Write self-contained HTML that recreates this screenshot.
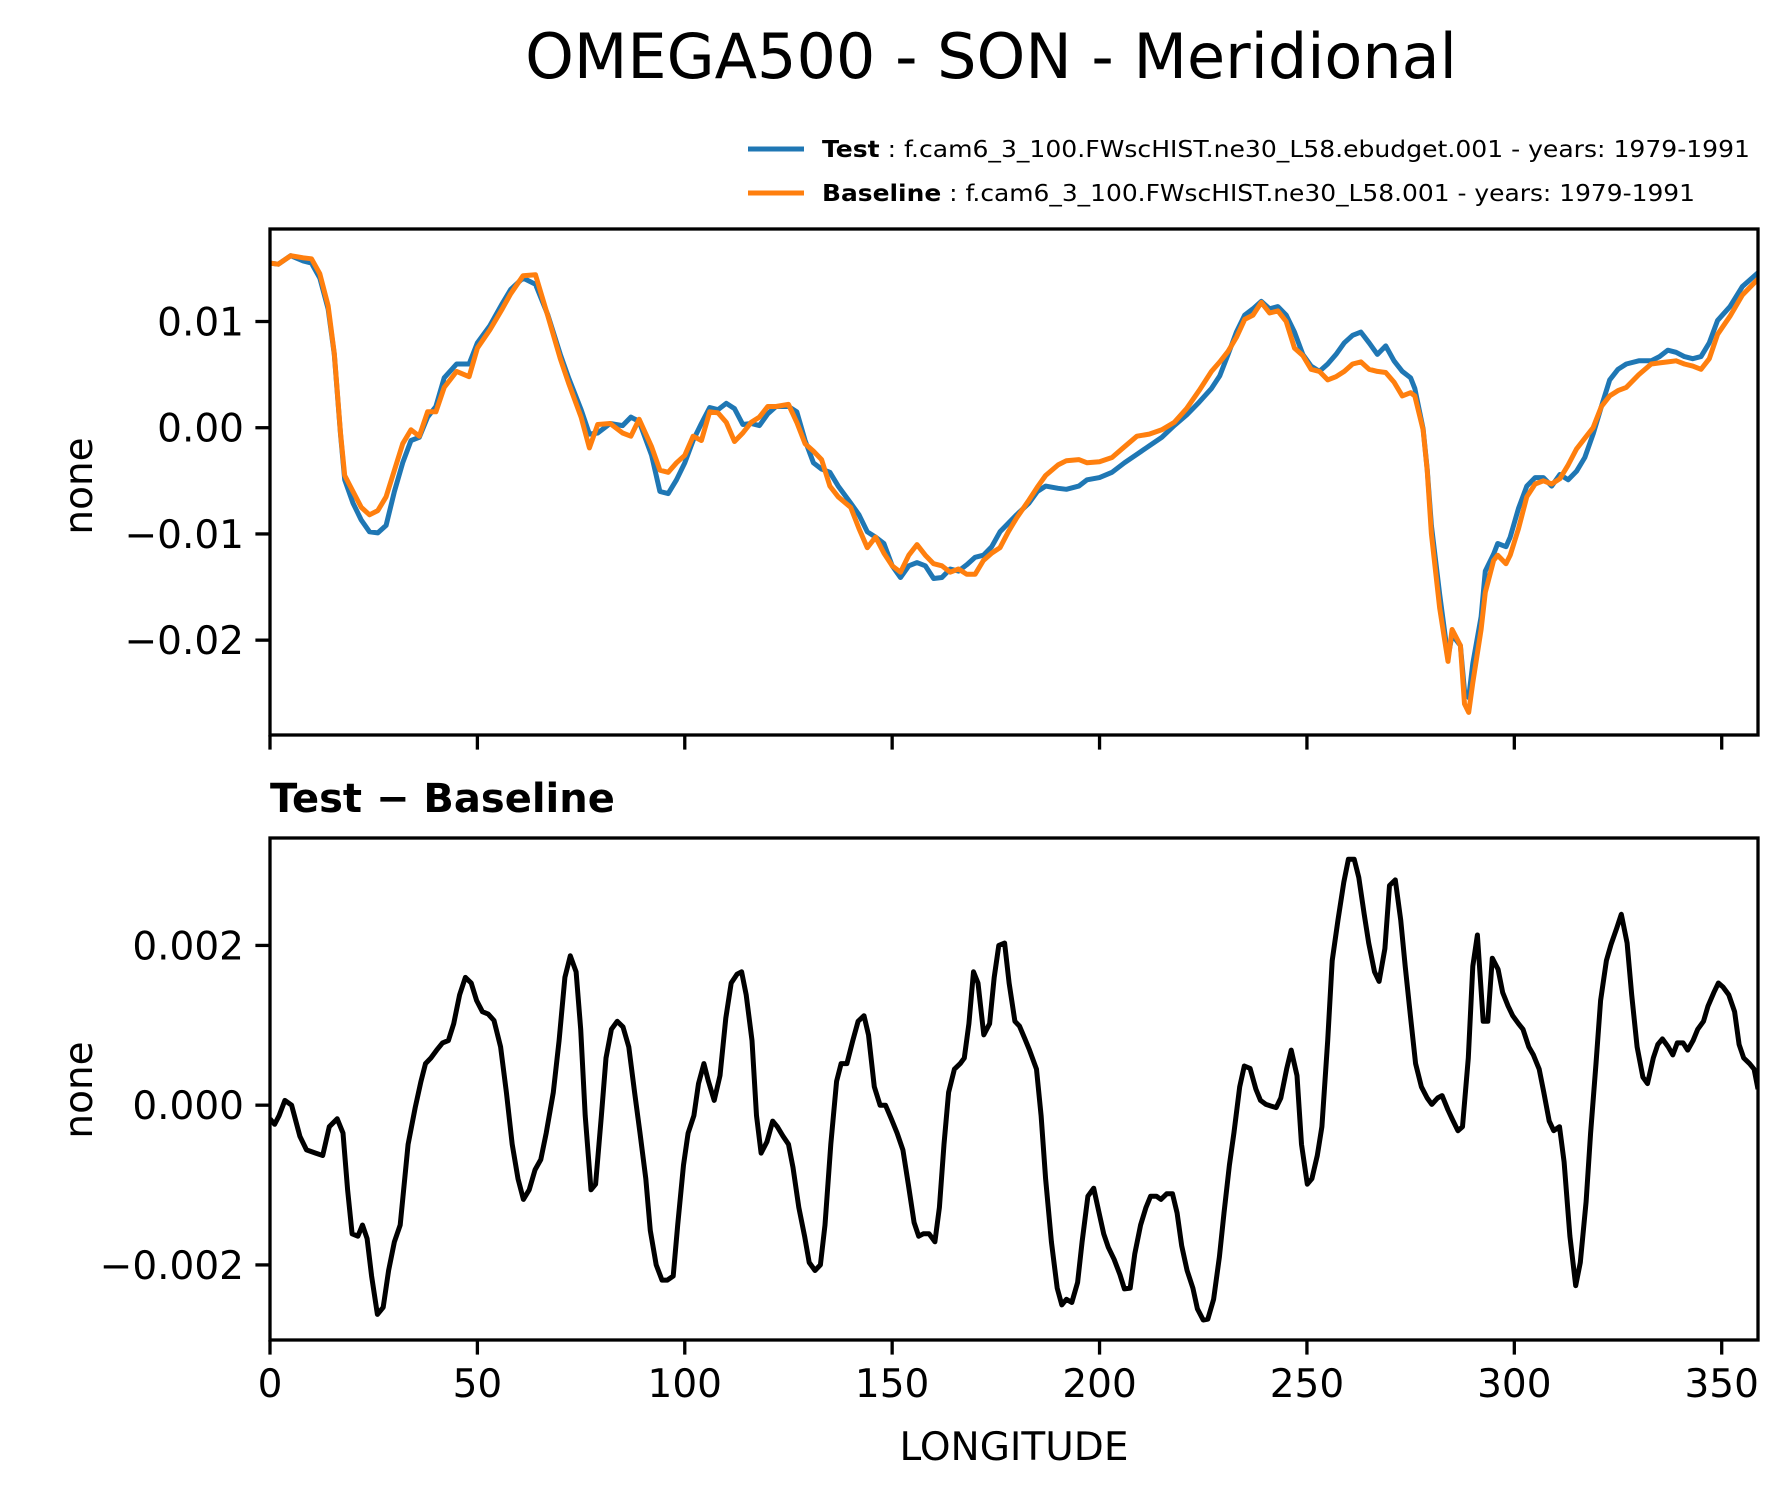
<!DOCTYPE html>
<html><head><meta charset="utf-8"><style>
html,body{margin:0;padding:0;background:#fff}
svg{display:block;font-family:"DejaVu Sans","Liberation Sans",sans-serif}
</style></head><body>
<svg id="fig" width="1791" height="1496" viewBox="0 0 1791 1496" xmlns="http://www.w3.org/2000/svg">
<rect width="1791" height="1496" fill="#fff"/>
<text x="991" y="78" font-size="62" text-anchor="middle">OMEGA500 - SON - Meridional</text>
<g>
<line x1="748" y1="149" x2="804" y2="149" stroke="#1f77b4" stroke-width="5"/>
<text x="822" y="157" font-size="23" textLength="928" lengthAdjust="spacingAndGlyphs"><tspan font-weight="bold">Test</tspan> : f.cam6_3_100.FWscHIST.ne30_L58.ebudget.001 - years: 1979-1991</text>
<line x1="748" y1="193" x2="804" y2="193" stroke="#ff7f0e" stroke-width="5"/>
<text x="822" y="201" font-size="23" textLength="873" lengthAdjust="spacingAndGlyphs"><tspan font-weight="bold">Baseline</tspan> : f.cam6_3_100.FWscHIST.ne30_L58.001 - years: 1979-1991</text>
</g>
<g id="topPanel"></g>
<g id="botPanel"></g>
<text x="270" y="812" font-size="40" font-weight="bold">Test − Baseline</text>
<text x="1014" y="1460" font-size="39" text-anchor="middle">LONGITUDE</text>
<text transform="translate(92,486) rotate(-90)" font-size="39" text-anchor="middle">none</text>
<text transform="translate(92,1090) rotate(-90)" font-size="39" text-anchor="middle">none</text>
</svg>
<script>
// data (values in units of 1e-3)
const lonTop = [0,2,5,8,10,12,14,15.5,17,18,20,22,24,26,28,30,32,34,36,38,40,42,45,48,50,53,56,58,61,64,67,70,72,75,77,79,82,85,87,89,92,94,96,98,100,102,104,106,108,110,112,114,116,118,120,122,125,127,129,131,133,135,137,140,142,144,146,148,150,152,154,156,158,160,162,164,166,168,170,172,174,176,178,180,183,185,187,190,192,195,197,200,203,206,209,212,215,218,221,224,227,229,231,233,235,237,239,241,243,245,247,249,251,253,255,257,259,261,263,265,267,269,271,273,275,276,278,279,280,282,284,285,287,288,289,290,292,293,295,296,298,299,301,303,305,307,309,311,313,315,317,319,321,323,325,327,330,333,335,337,339,341,343,345,347,349,352,355,358.75];
const testVals = [15.5,15.4,16.2,15.7,15.5,14.1,11.2,6.9,-0.6,-4.9,-7.1,-8.7,-9.8,-9.9,-9.2,-6.0,-3.3,-1.2,-0.9,1.0,2.0,4.7,6.0,6.0,8.0,9.6,11.7,13.0,14.1,13.5,10.6,6.9,4.7,1.7,-0.6,-0.5,0.4,0.2,1.0,0.6,-2.6,-6.0,-6.2,-4.9,-3.3,-1.2,0.4,1.9,1.7,2.3,1.8,0.3,0.4,0.2,1.3,2.0,2.0,1.5,-1.2,-3.3,-3.9,-4.2,-5.5,-7.1,-8.2,-9.8,-10.3,-10.9,-13.0,-14.1,-13.0,-12.7,-13.0,-14.2,-14.1,-13.3,-13.5,-12.9,-12.2,-12.0,-11.2,-9.8,-9.0,-8.2,-7.1,-6.0,-5.5,-5.7,-5.8,-5.5,-4.9,-4.7,-4.2,-3.3,-2.5,-1.7,-0.9,0.2,1.2,2.4,3.7,4.9,6.9,9.0,10.6,11.2,11.9,11.2,11.4,10.6,9.0,6.9,5.8,5.3,6.0,6.9,8.0,8.7,9.0,8.0,6.9,7.7,6.3,5.3,4.7,3.7,-0.1,-3.9,-9.2,-15.7,-21.6,-19.5,-20.5,-24.8,-25.4,-22.2,-17.8,-13.5,-11.9,-10.9,-11.2,-10.3,-7.6,-5.5,-4.7,-4.7,-5.5,-4.4,-4.9,-4.1,-2.8,-0.6,2.0,4.5,5.5,6.0,6.3,6.3,6.7,7.3,7.1,6.7,6.5,6.7,8.0,10.1,11.4,13.3,14.6];
const baseVals = [15.5,15.4,16.2,16.0,15.9,14.5,11.5,7.0,-0.5,-4.5,-6.0,-7.5,-8.2,-7.8,-6.5,-4.0,-1.5,-0.2,-0.8,1.5,1.5,3.8,5.3,4.8,7.5,9.2,11.2,12.6,14.3,14.4,10.5,6.5,4.2,1.0,-1.9,0.3,0.4,-0.5,-0.8,0.8,-1.8,-4.0,-4.2,-3.3,-2.6,-0.8,-1.2,1.5,1.4,0.5,-1.3,-0.5,0.5,1.0,2.0,2.0,2.2,0.5,-1.5,-2.2,-3.0,-5.5,-6.5,-7.5,-9.5,-11.3,-10.3,-11.8,-13.0,-13.6,-12.0,-11.0,-12.0,-12.8,-13.0,-13.6,-13.3,-13.8,-13.8,-12.5,-11.8,-11.3,-9.8,-8.5,-6.8,-5.6,-4.5,-3.5,-3.1,-3.0,-3.3,-3.2,-2.8,-1.8,-0.8,-0.6,-0.2,0.5,1.8,3.5,5.3,6.2,7.2,8.5,10.2,10.6,11.8,10.8,11.0,10.0,7.5,6.8,5.5,5.3,4.5,4.8,5.3,6.0,6.2,5.5,5.3,5.2,4.3,3.0,3.3,3.0,-0.2,-4.0,-10.0,-17.0,-22.0,-19.0,-20.5,-26.0,-26.8,-24.0,-19.0,-15.5,-12.5,-12.0,-12.8,-12.0,-9.5,-6.5,-5.3,-5.0,-5.3,-4.8,-3.5,-2.0,-1.0,0.0,2.0,3.0,3.5,3.8,5.0,6.0,6.1,6.2,6.3,6.0,5.8,5.5,6.5,8.8,10.5,12.5,14.0];
const lonDiff = [0,1.1,2.2,3.6,5.2,7.2,8.8,11.0,12.7,14.3,
16.2,17.6,18.7,19.8,21.2,22.3,23.4,24.5,25.9,27.3,
28.6,30.0,31.4,33.3,35.0,36.4,37.5,38.8,40.2,41.6,
43.0,44.3,45.7,47.1,48.5,49.8,51.2,52.6,54.0,55.6,
57.0,58.4,59.8,61.1,62.5,63.9,65.3,66.6,68.3,69.7,
71.1,72.4,73.8,74.9,76.0,77.4,78.5,79.9,81.0,82.3,
83.7,85.1,86.5,87.9,89.2,90.6,91.7,93.1,94.5,95.8,
97.2,98.3,99.7,100.8,102.2,103.3,104.6,105.7,107.1,108.5,
109.9,111.2,112.6,113.7,114.8,116.2,117.3,118.4,119.8,121.2,
122.3,123.7,125.0,126.1,127.5,128.9,130.0,131.4,132.7,133.8,
135.2,136.6,137.7,139.1,140.5,141.8,143.2,144.3,145.7,147.1,
148.4,149.8,151.2,152.6,153.9,155.3,156.4,157.5,158.9,160.3,
161.4,162.5,163.6,165.0,166.4,167.4,168.5,169.6,170.7,172.1,
173.5,174.6,175.7,177.1,178.2,179.6,180.7,182.0,183.1,184.8,
185.9,187.0,188.4,189.8,190.9,192.0,193.3,194.7,195.8,197.2,
198.6,199.9,201.0,202.1,203.5,204.9,206.0,207.4,208.5,209.9,
211.2,212.3,213.7,214.8,216.2,217.6,218.7,219.8,221.1,222.5,
223.6,225.0,226.1,227.5,228.9,230.0,231.3,232.4,233.8,234.9,
236.3,237.7,238.8,240.1,241.3,242.6,243.7,245.1,246.2,247.6,
248.7,250.1,251.2,252.5,253.6,255.0,256.1,257.5,258.9,260.0,
261.4,262.5,263.8,264.9,266.3,267.4,268.8,269.9,271.3,272.6,
273.7,275.1,276.2,277.6,279.0,280.1,281.5,282.6,284.0,285.0,
286.4,287.5,288.9,290.0,291.1,292.5,293.6,294.7,296.1,297.2,
298.5,299.6,301.0,302.1,303.5,304.6,306.0,307.1,308.4,309.5,
310.9,312.0,313.4,314.8,315.9,317.3,318.4,319.7,320.8,322.2,
323.3,324.7,325.8,327.2,328.3,329.6,331.0,332.1,333.5,334.6,
335.7,337.1,338.2,339.3,340.7,341.8,343.1,344.2,345.6,346.7,
348.1,349.2,350.3,351.7,353.1,354.2,355.3,356.7,357.8,358.75];
const diffVals = [-0.17,-0.24,-0.13,0.06,0.00,-0.39,-0.56,-0.60,-0.63,-0.27,
-0.17,-0.35,-1.06,-1.61,-1.64,-1.50,-1.67,-2.14,-2.62,-2.53,
-2.07,-1.71,-1.50,-0.49,-0.03,0.30,0.52,0.59,0.69,0.78,
0.81,1.02,1.38,1.60,1.53,1.31,1.17,1.14,1.06,0.73,
0.16,-0.49,-0.92,-1.18,-1.06,-0.81,-0.68,-0.35,0.16,0.81,
1.60,1.87,1.67,0.95,-0.13,-1.06,-0.99,-0.13,0.59,0.95,
1.05,0.98,0.73,0.16,-0.35,-0.92,-1.57,-2.00,-2.19,-2.19,
-2.14,-1.50,-0.75,-0.35,-0.13,0.27,0.52,0.30,0.06,0.37,
1.09,1.53,1.64,1.67,1.38,0.81,-0.13,-0.60,-0.46,-0.20,
-0.27,-0.39,-0.49,-0.78,-1.28,-1.64,-1.97,-2.07,-2.00,-1.50,
-0.49,0.30,0.52,0.52,0.81,1.05,1.12,0.88,0.23,0.00,
0.00,-0.17,-0.35,-0.56,-0.99,-1.47,-1.64,-1.61,-1.61,-1.71,
-1.28,-0.49,0.16,0.45,0.52,0.59,1.02,1.67,1.53,0.88,
1.02,1.60,2.00,2.03,1.53,1.05,0.99,0.83,0.69,0.45,
-0.13,-0.92,-1.71,-2.29,-2.50,-2.43,-2.47,-2.22,-1.71,-1.14,
-1.04,-1.35,-1.61,-1.78,-1.93,-2.12,-2.30,-2.29,-1.86,-1.50,
-1.28,-1.14,-1.14,-1.18,-1.11,-1.11,-1.35,-1.76,-2.07,-2.29,
-2.55,-2.69,-2.68,-2.43,-1.90,-1.35,-0.75,-0.35,0.23,0.49,
0.46,0.20,0.06,0.01,-0.01,-0.03,0.09,0.45,0.69,0.37,
-0.49,-0.99,-0.92,-0.63,-0.27,0.81,1.81,2.32,2.79,3.08,
3.08,2.85,2.39,2.03,1.67,1.55,1.96,2.75,2.82,2.32,
1.74,1.05,0.52,0.23,0.09,0.01,0.09,0.12,-0.06,-0.17,
-0.32,-0.27,0.59,1.74,2.13,1.05,1.05,1.84,1.70,1.41,
1.24,1.12,1.02,0.95,0.73,0.63,0.45,0.16,-0.20,-0.32,
-0.27,-0.71,-1.64,-2.26,-1.97,-1.21,-0.35,0.52,1.31,1.81,
2.01,2.22,2.39,2.03,1.38,0.73,0.35,0.27,0.59,0.76,
0.83,0.73,0.63,0.78,0.78,0.69,0.81,0.95,1.05,1.24,
1.41,1.53,1.48,1.38,1.17,0.76,0.59,0.52,0.45,0.20];
const lonMax = 358.75;
const xTicks = [0,50,100,150,200,250,300,350];
const topTicks = [-0.02,-0.01,0.00,0.01];
const topTickLabels = ["−0.02","−0.01","0.00","0.01"];
const botTicks = [-0.002,0.000,0.002];
const botTickLabels = ["−0.002","0.000","0.002"];

const NS="http://www.w3.org/2000/svg";
const L=270,R=1758;
const pTop={t:229,b:735,min:-0.02893,max:0.01871};
const pBot={t:838,b:1340,min:-0.00294,max:0.003345};
function xs(v){return L+(v/lonMax)*(R-L);}
function ys(p,v){return p.b-(v-p.min)/(p.max-p.min)*(p.b-p.t);}
function mk(tag,attrs,parent){const e=document.createElementNS(NS,tag);for(const k in attrs)e.setAttribute(k,attrs[k]);parent.appendChild(e);return e;}

function drawAxes(g,p,ticks,labels,showX,prefix){
  const frame=mk('rect',{x:L,y:p.t,width:R-L,height:p.b-p.t,fill:'none',stroke:'#000','stroke-width':3.3},g);
  
  
  ticks.forEach((v,i)=>{
    const y=ys(p,v);
    const t=mk('line',{x1:L-14.6,x2:L,y1:y,y2:y,stroke:'#000','stroke-width':3.3},g);
    
    
    const tx=mk('text',{x:L-26,y:y+14,'font-size':39,'text-anchor':'end'},g);
    tx.textContent=labels[i];
    
    
  });
  xTicks.forEach(v=>{
    const x=xs(v);
    const t=mk('line',{x1:x,x2:x,y1:p.b,y2:p.b+14.6,stroke:'#000','stroke-width':3.3},g);
    
    
    if(showX){
      const tx=mk('text',{x:x,y:p.b+57,'font-size':39,'text-anchor':'middle'},g);
      tx.textContent=String(v);
      
      
    }
  });
}
function drawLine(g,p,lons,vals,color,name){
  const n=Math.min(lons.length,vals.length);
  let d='';
  for(let i=0;i<n;i++){d+=(i?'L':'M')+xs(lons[i]).toFixed(1)+','+ys(p,vals[i]*0.001).toFixed(1)+' ';}
  const path=mk('path',{d:d,fill:'none',stroke:color,'stroke-width':5,'stroke-linejoin':'round','stroke-linecap':'butt'},g);
  
  
}
const gTop=document.getElementById('topPanel'), gBot=document.getElementById('botPanel');
const clipT=mk('clipPath',{id:'ct'},gTop); mk('rect',{x:L,y:pTop.t,width:R-L,height:pTop.b-pTop.t},clipT);
const clipB=mk('clipPath',{id:'cb'},gBot); mk('rect',{x:L,y:pBot.t,width:R-L,height:pBot.b-pBot.t},clipB);
const lt=mk('g',{'clip-path':'url(#ct)'},gTop);
const lb=mk('g',{'clip-path':'url(#cb)'},gBot);
drawLine(lt,pTop,lonTop,testVals,'#1f77b4','test-line');
drawLine(lt,pTop,lonTop,baseVals,'#ff7f0e','baseline-line');
drawLine(lb,pBot,lonDiff,diffVals,'#000','difference-line');
drawAxes(gTop,pTop,topTicks,topTickLabels,false,'top');
drawAxes(gBot,pBot,botTicks,botTickLabels,true,'bottom');
</script>
</body></html>
